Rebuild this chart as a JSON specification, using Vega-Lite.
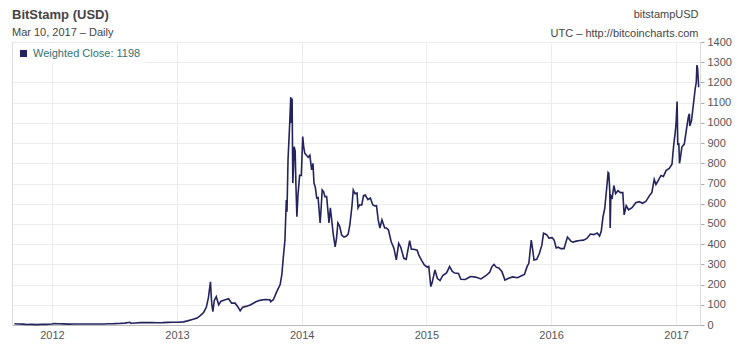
{
  "$schema": "https://vega.github.io/schema/vega-lite/v6.json",
  "width": 688,
  "height": 283,
  "autosize": "none",
  "padding": {"left": 12, "top": 42, "right": 50, "bottom": 27},
  "background": "white",
  "config": {"font": "Liberation Sans", "view": {"stroke": "#dddddd"}},
  "title": {
    "text": "BitStamp (USD)",
    "subtitle": "Mar 10, 2017 – Daily",
    "anchor": "start",
    "frame": "group",
    "fontSize": 13,
    "fontWeight": "bold",
    "color": "#444444",
    "subtitleFontSize": 11,
    "subtitleColor": "#444444",
    "subtitlePadding": 5,
    "offset": -30
  },
  "data": {
    "values": [
      {"date": "2011-09-13", "close": 5.9},
      {"date": "2011-09-25", "close": 5.3},
      {"date": "2011-10-08", "close": 4.2},
      {"date": "2011-10-20", "close": 2.5},
      {"date": "2011-11-01", "close": 3.2},
      {"date": "2011-11-18", "close": 2.1},
      {"date": "2011-12-01", "close": 3.0},
      {"date": "2011-12-15", "close": 3.2},
      {"date": "2011-12-31", "close": 4.6},
      {"date": "2012-01-08", "close": 7.0},
      {"date": "2012-01-20", "close": 6.4},
      {"date": "2012-02-05", "close": 5.8},
      {"date": "2012-02-20", "close": 4.5},
      {"date": "2012-03-05", "close": 4.9},
      {"date": "2012-03-20", "close": 4.8},
      {"date": "2012-04-05", "close": 4.9},
      {"date": "2012-04-25", "close": 5.1},
      {"date": "2012-05-15", "close": 5.0},
      {"date": "2012-06-01", "close": 5.3},
      {"date": "2012-06-15", "close": 6.5},
      {"date": "2012-07-01", "close": 6.7},
      {"date": "2012-07-15", "close": 7.6},
      {"date": "2012-08-01", "close": 9.3},
      {"date": "2012-08-16", "close": 13.3},
      {"date": "2012-08-19", "close": 8.5},
      {"date": "2012-09-01", "close": 10.2},
      {"date": "2012-09-15", "close": 11.8},
      {"date": "2012-10-01", "close": 12.4},
      {"date": "2012-10-20", "close": 11.6},
      {"date": "2012-11-05", "close": 10.8},
      {"date": "2012-11-20", "close": 11.6},
      {"date": "2012-12-05", "close": 13.0},
      {"date": "2012-12-20", "close": 13.3},
      {"date": "2013-01-05", "close": 13.5},
      {"date": "2013-01-20", "close": 15.5},
      {"date": "2013-02-01", "close": 20.4},
      {"date": "2013-02-15", "close": 27},
      {"date": "2013-03-01", "close": 34},
      {"date": "2013-03-10", "close": 46},
      {"date": "2013-03-20", "close": 62},
      {"date": "2013-03-28", "close": 89},
      {"date": "2013-04-03", "close": 135},
      {"date": "2013-04-09", "close": 214},
      {"date": "2013-04-11", "close": 150},
      {"date": "2013-04-13", "close": 100},
      {"date": "2013-04-16", "close": 66},
      {"date": "2013-04-20", "close": 120},
      {"date": "2013-04-26", "close": 140},
      {"date": "2013-05-03", "close": 100},
      {"date": "2013-05-10", "close": 118},
      {"date": "2013-05-20", "close": 124},
      {"date": "2013-06-01", "close": 130},
      {"date": "2013-06-10", "close": 108},
      {"date": "2013-06-20", "close": 108},
      {"date": "2013-06-28", "close": 90},
      {"date": "2013-07-05", "close": 70},
      {"date": "2013-07-12", "close": 88},
      {"date": "2013-07-22", "close": 92},
      {"date": "2013-08-05", "close": 100},
      {"date": "2013-08-20", "close": 115},
      {"date": "2013-09-01", "close": 122},
      {"date": "2013-09-15", "close": 126},
      {"date": "2013-09-30", "close": 125},
      {"date": "2013-10-02", "close": 115},
      {"date": "2013-10-10", "close": 125},
      {"date": "2013-10-20", "close": 165},
      {"date": "2013-10-30", "close": 200},
      {"date": "2013-11-04", "close": 250},
      {"date": "2013-11-08", "close": 331},
      {"date": "2013-11-13", "close": 420},
      {"date": "2013-11-17", "close": 618},
      {"date": "2013-11-19", "close": 560},
      {"date": "2013-11-22", "close": 816},
      {"date": "2013-11-27", "close": 1000},
      {"date": "2013-11-30", "close": 1128},
      {"date": "2013-12-02", "close": 1000},
      {"date": "2013-12-04", "close": 1120},
      {"date": "2013-12-06", "close": 702},
      {"date": "2013-12-08", "close": 780},
      {"date": "2013-12-10", "close": 882},
      {"date": "2013-12-13", "close": 860},
      {"date": "2013-12-15", "close": 700},
      {"date": "2013-12-18", "close": 536},
      {"date": "2013-12-21", "close": 640},
      {"date": "2013-12-26", "close": 740},
      {"date": "2013-12-31", "close": 740},
      {"date": "2014-01-04", "close": 932},
      {"date": "2014-01-07", "close": 880},
      {"date": "2014-01-10", "close": 850},
      {"date": "2014-01-15", "close": 840},
      {"date": "2014-01-20", "close": 830},
      {"date": "2014-01-25", "close": 840},
      {"date": "2014-01-30", "close": 767},
      {"date": "2014-02-03", "close": 800},
      {"date": "2014-02-06", "close": 702},
      {"date": "2014-02-10", "close": 680},
      {"date": "2014-02-14", "close": 628},
      {"date": "2014-02-18", "close": 630},
      {"date": "2014-02-24", "close": 505},
      {"date": "2014-02-27", "close": 580},
      {"date": "2014-03-02", "close": 668},
      {"date": "2014-03-06", "close": 660},
      {"date": "2014-03-10", "close": 635},
      {"date": "2014-03-15", "close": 635},
      {"date": "2014-03-22", "close": 505},
      {"date": "2014-03-26", "close": 580},
      {"date": "2014-04-03", "close": 455},
      {"date": "2014-04-09", "close": 387},
      {"date": "2014-04-13", "close": 430},
      {"date": "2014-04-17", "close": 505},
      {"date": "2014-04-22", "close": 490},
      {"date": "2014-04-28", "close": 445},
      {"date": "2014-05-05", "close": 435},
      {"date": "2014-05-12", "close": 440},
      {"date": "2014-05-17", "close": 450},
      {"date": "2014-05-22", "close": 495},
      {"date": "2014-05-28", "close": 585},
      {"date": "2014-06-01", "close": 668},
      {"date": "2014-06-06", "close": 650},
      {"date": "2014-06-12", "close": 653},
      {"date": "2014-06-15", "close": 579},
      {"date": "2014-06-20", "close": 595},
      {"date": "2014-06-26", "close": 594},
      {"date": "2014-07-01", "close": 640},
      {"date": "2014-07-06", "close": 643},
      {"date": "2014-07-14", "close": 620},
      {"date": "2014-07-21", "close": 628},
      {"date": "2014-07-28", "close": 595},
      {"date": "2014-08-03", "close": 589},
      {"date": "2014-08-08", "close": 590},
      {"date": "2014-08-13", "close": 520},
      {"date": "2014-08-18", "close": 480},
      {"date": "2014-08-24", "close": 520},
      {"date": "2014-09-01", "close": 480},
      {"date": "2014-09-06", "close": 480},
      {"date": "2014-09-12", "close": 470},
      {"date": "2014-09-20", "close": 412},
      {"date": "2014-09-28", "close": 380},
      {"date": "2014-10-05", "close": 322},
      {"date": "2014-10-12", "close": 404},
      {"date": "2014-10-18", "close": 385},
      {"date": "2014-10-27", "close": 330},
      {"date": "2014-11-03", "close": 325},
      {"date": "2014-11-13", "close": 417},
      {"date": "2014-11-18", "close": 375},
      {"date": "2014-11-25", "close": 375},
      {"date": "2014-12-05", "close": 370},
      {"date": "2014-12-10", "close": 346},
      {"date": "2014-12-18", "close": 320},
      {"date": "2014-12-26", "close": 297},
      {"date": "2015-01-03", "close": 287},
      {"date": "2015-01-08", "close": 290},
      {"date": "2015-01-14", "close": 190},
      {"date": "2015-01-18", "close": 210},
      {"date": "2015-01-26", "close": 272},
      {"date": "2015-02-02", "close": 231},
      {"date": "2015-02-10", "close": 220},
      {"date": "2015-02-18", "close": 245},
      {"date": "2015-03-01", "close": 258},
      {"date": "2015-03-10", "close": 289},
      {"date": "2015-03-18", "close": 265},
      {"date": "2015-03-25", "close": 257},
      {"date": "2015-04-05", "close": 255},
      {"date": "2015-04-12", "close": 226},
      {"date": "2015-04-25", "close": 225},
      {"date": "2015-05-10", "close": 240},
      {"date": "2015-05-25", "close": 237},
      {"date": "2015-06-10", "close": 228},
      {"date": "2015-06-25", "close": 245},
      {"date": "2015-07-05", "close": 260},
      {"date": "2015-07-12", "close": 289},
      {"date": "2015-07-18", "close": 300},
      {"date": "2015-07-25", "close": 285},
      {"date": "2015-08-01", "close": 282},
      {"date": "2015-08-10", "close": 265},
      {"date": "2015-08-19", "close": 222},
      {"date": "2015-08-28", "close": 230},
      {"date": "2015-09-10", "close": 238},
      {"date": "2015-09-25", "close": 234},
      {"date": "2015-10-05", "close": 242},
      {"date": "2015-10-15", "close": 250},
      {"date": "2015-10-23", "close": 290},
      {"date": "2015-10-28", "close": 305},
      {"date": "2015-11-04", "close": 420},
      {"date": "2015-11-08", "close": 375},
      {"date": "2015-11-12", "close": 322},
      {"date": "2015-11-20", "close": 325},
      {"date": "2015-11-28", "close": 355},
      {"date": "2015-12-05", "close": 395},
      {"date": "2015-12-10", "close": 454},
      {"date": "2015-12-15", "close": 450},
      {"date": "2015-12-20", "close": 445},
      {"date": "2015-12-26", "close": 430},
      {"date": "2016-01-04", "close": 432},
      {"date": "2016-01-10", "close": 420},
      {"date": "2016-01-16", "close": 381},
      {"date": "2016-01-22", "close": 385},
      {"date": "2016-01-30", "close": 378},
      {"date": "2016-02-08", "close": 378},
      {"date": "2016-02-18", "close": 435},
      {"date": "2016-02-28", "close": 415},
      {"date": "2016-03-05", "close": 410},
      {"date": "2016-03-15", "close": 415},
      {"date": "2016-03-25", "close": 418},
      {"date": "2016-04-05", "close": 420},
      {"date": "2016-04-15", "close": 428},
      {"date": "2016-04-25", "close": 450},
      {"date": "2016-05-05", "close": 447},
      {"date": "2016-05-15", "close": 455},
      {"date": "2016-05-22", "close": 440},
      {"date": "2016-05-27", "close": 465},
      {"date": "2016-06-01", "close": 535},
      {"date": "2016-06-06", "close": 575},
      {"date": "2016-06-12", "close": 680},
      {"date": "2016-06-16", "close": 754},
      {"date": "2016-06-18", "close": 750},
      {"date": "2016-06-21", "close": 660},
      {"date": "2016-06-22", "close": 480},
      {"date": "2016-06-24", "close": 640},
      {"date": "2016-06-28", "close": 630},
      {"date": "2016-07-03", "close": 690},
      {"date": "2016-07-08", "close": 650},
      {"date": "2016-07-15", "close": 665},
      {"date": "2016-07-22", "close": 655},
      {"date": "2016-07-29", "close": 655},
      {"date": "2016-08-02", "close": 545},
      {"date": "2016-08-08", "close": 590},
      {"date": "2016-08-15", "close": 570},
      {"date": "2016-08-25", "close": 580},
      {"date": "2016-09-05", "close": 605},
      {"date": "2016-09-15", "close": 610},
      {"date": "2016-09-25", "close": 602},
      {"date": "2016-10-05", "close": 612},
      {"date": "2016-10-15", "close": 640},
      {"date": "2016-10-22", "close": 655},
      {"date": "2016-10-29", "close": 720},
      {"date": "2016-11-03", "close": 695},
      {"date": "2016-11-10", "close": 715},
      {"date": "2016-11-18", "close": 740},
      {"date": "2016-11-25", "close": 735},
      {"date": "2016-12-03", "close": 765},
      {"date": "2016-12-12", "close": 775},
      {"date": "2016-12-20", "close": 795},
      {"date": "2016-12-25", "close": 890},
      {"date": "2016-12-30", "close": 960},
      {"date": "2017-01-01", "close": 1000},
      {"date": "2017-01-04", "close": 1105},
      {"date": "2017-01-06", "close": 890},
      {"date": "2017-01-09", "close": 900},
      {"date": "2017-01-11", "close": 800},
      {"date": "2017-01-13", "close": 820},
      {"date": "2017-01-18", "close": 880},
      {"date": "2017-01-25", "close": 895},
      {"date": "2017-02-01", "close": 975},
      {"date": "2017-02-06", "close": 1030},
      {"date": "2017-02-09", "close": 1045},
      {"date": "2017-02-10", "close": 985},
      {"date": "2017-02-15", "close": 1010},
      {"date": "2017-02-22", "close": 1110},
      {"date": "2017-02-26", "close": 1170},
      {"date": "2017-03-01", "close": 1200},
      {"date": "2017-03-03", "close": 1286},
      {"date": "2017-03-05", "close": 1270},
      {"date": "2017-03-08", "close": 1180},
      {"date": "2017-03-10", "close": 1179}
    ]
  },
  "mark": {"type": "line", "strokeWidth": 1.6},
  "encoding": {
    "x": {
      "field": "date",
      "type": "temporal",
      "scale": {"domain": [{"year": 2011, "month": 9, "date": 6, "utc": true}, {"year": 2017, "month": 3, "date": 12, "utc": true}]},
      "axis": {
        "title": null,
        "format": "%Y",
        "tickCount": {"interval": "year", "step": 1},
        "labelFontSize": 11,
        "labelColor": "#555555",
        "labelPadding": 4,
        "labelFlush": false,
        "ticks": false,
        "grid": true,
        "gridColor": "#ececec",
        "domainColor": "#bbbbbb"
      }
    },
    "y": {
      "field": "close",
      "type": "quantitative",
      "scale": {"domain": [0, 1400]},
      "axis": {
        "orient": "right",
        "format": "d",
        "values": [0, 100, 200, 300, 400, 500, 600, 700, 800, 900, 1000, 1100, 1200, 1300, 1400],
        "labelFontSize": 11,
        "labelColor": "#555555",
        "labelPadding": 3,
        "tickSize": 4,
        "tickColor": "#aaaaaa",
        "grid": true,
        "gridColor": "#ececec",
        "domainColor": "#dddddd",
        "title": ["bitstampUSD", "UTC – http://bitcoincharts.com"],
        "titleAngle": 0,
        "titleAlign": "right",
        "titleBaseline": "bottom",
        "titleX": -2,
        "titleY": -23,
        "titleLineHeight": 19,
        "titleFontSize": 11,
        "titleFontWeight": "normal",
        "titleColor": "#444444"
      }
    },
    "color": {
      "datum": "Weighted Close: 1198",
      "scale": {"range": ["#23235e"]},
      "legend": {
        "orient": "top-left",
        "title": null,
        "offset": 2,
        "padding": 4,
        "fillColor": "white",
        "symbolType": "square",
        "symbolSize": 50,
        "symbolFillColor": "#23235e",
        "symbolStrokeWidth": 0,
        "labelColor": "#357272",
        "labelFontSize": 11
      }
    }
  }
}
